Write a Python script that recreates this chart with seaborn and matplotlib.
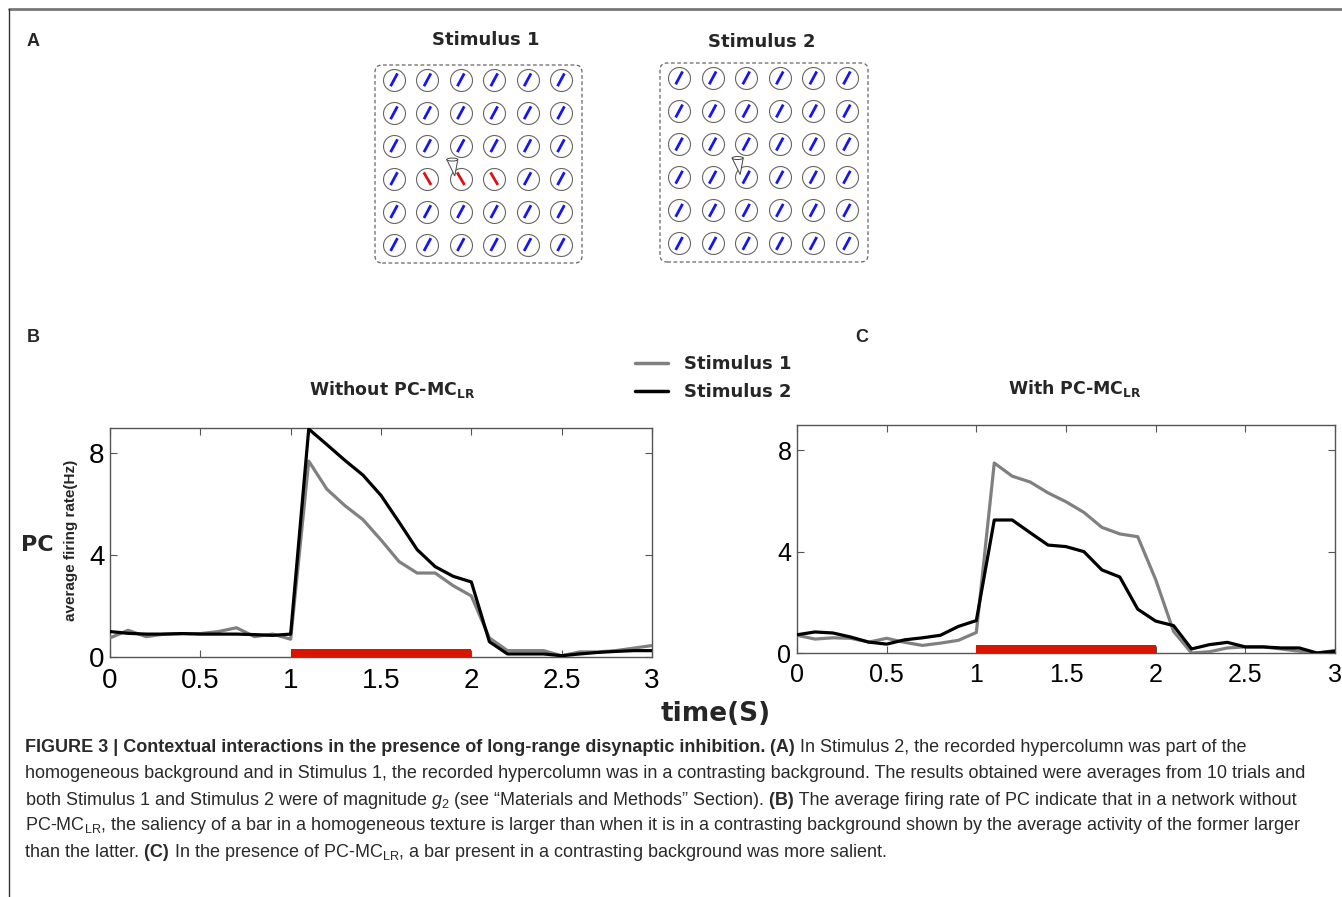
import matplotlib
matplotlib.use("Agg")

import numpy as np
import pandas as pd
import matplotlib.pyplot as plt
import seaborn as sns
from matplotlib import font_manager
from matplotlib.patches import FancyBboxPatch, Polygon, Ellipse
from matplotlib.lines import Line2D

# ---------------- data ----------------
time_s = [0.0, 0.1, 0.2, 0.3, 0.4, 0.5, 0.6, 0.7, 0.8, 0.9,
          1.0, 1.1, 1.2, 1.3, 1.4, 1.5, 1.6, 1.7, 1.8, 1.9,
          2.0, 2.1, 2.2, 2.3, 2.4, 2.5, 2.6, 2.7, 2.8, 2.9, 3.0]

# B: without PC-MC_LR
b_stim1 = [0.75, 1.05, 0.80, 0.90, 0.92, 0.92, 1.00, 1.15, 0.80, 0.90,
           0.70, 7.70, 6.60, 5.95, 5.40, 4.60, 3.75, 3.30, 3.30, 2.80,
           2.40, 0.75, 0.25, 0.25, 0.25, 0.05, 0.20, 0.20, 0.25, 0.35, 0.45]
b_stim2 = [1.00, 0.93, 0.90, 0.90, 0.92, 0.90, 0.90, 0.90, 0.88, 0.85,
           0.90, 8.96, 8.35, 7.73, 7.15, 6.35, 5.30, 4.22, 3.55, 3.17,
           2.95, 0.60, 0.12, 0.12, 0.12, 0.05, 0.12, 0.18, 0.22, 0.25, 0.25]

# C: with PC-MC_LR
c_stim1 = [0.70, 0.55, 0.60, 0.58, 0.43, 0.58, 0.42, 0.30, 0.39, 0.50,
           0.81, 7.50, 6.98, 6.75, 6.32, 5.97, 5.55, 4.96, 4.70, 4.59,
           2.90, 0.85, 0.00, 0.05, 0.20, 0.24, 0.24, 0.16, 0.07, 0.00, 0.10]
c_stim2 = [0.72, 0.83, 0.79, 0.63, 0.43, 0.35, 0.52, 0.60, 0.70, 1.05,
           1.28, 5.25, 5.25, 4.75, 4.26, 4.20, 4.00, 3.28, 3.00, 1.73,
           1.26, 1.08, 0.16, 0.33, 0.42, 0.24, 0.24, 0.20, 0.20, 0.00, 0.07]

stim_on = [1.0, 2.0]      # stimulus presentation window (s)
stim_bar_height = 0.32

x_ticks = [0, 0.5, 1, 1.5, 2, 2.5, 3]
x_ticklabels = ["0", "0.5", "1", "1.5", "2", "2.5", "3"]
y_ticks = [0, 4, 8]

# bar orientations (deg from horizontal) in the 6x6 hypercolumn grids
stim1_angles = [[62] * 6, [62] * 6, [62] * 6,
                [62, 120, 120, 120, 62, 62],
                [62] * 6, [62] * 6]
stim2_angles = [[62] * 6 for _ in range(6)]
electrode_cell = (2, 3)   # (col, row) of the recorded hypercolumn

caption_lines = [
    [("FIGURE 3 | Contextual interactions in the presence of long-range disynaptic inhibition.", "bold"),
     (" (A)", "bold"),
     (" In Stimulus 2, the recorded hypercolumn was part of the", "normal")],
    [("homogeneous background and in Stimulus 1, the recorded hypercolumn was in a contrasting "
      "background. The results obtained were averages from 10 trials and", "normal")],
    [("both Stimulus 1 and Stimulus 2 were of magnitude $g_2$ (see \u201cMaterials and Methods\u201d Section).", "normal"),
     (" (B)", "bold"),
     (" The average firing rate of PC indicate that in a network without", "normal")],
    [("PC-MC$_{\\mathrm{LR}}$, the saliency of a bar in a homogeneous texture is larger than when it is in "
      "a contrasting background shown by the average activity of the former larger", "normal")],
    [("than the latter.", "normal"),
     (" (C)", "bold"),
     (" In the presence of PC-MC$_{\\mathrm{LR}}$, a bar present in a contrasting background was more salient.", "normal")],
]

# ---------------- style ----------------
sns.set_theme(style="ticks", rc={"xtick.direction": "in", "ytick.direction": "in"})
plt.rcParams["font.family"] = ["DejaVu Sans"]

installed = {f.name for f in font_manager.fontManager.ttflist}
CAP_FONT = "Liberation Sans Narrow" if "Liberation Sans Narrow" in installed else "Liberation Sans"
CAP_SIZE = 15.3 if CAP_FONT == "Liberation Sans Narrow" else 13.0
plt.rcParams["mathtext.fontset"] = "custom"
plt.rcParams["mathtext.rm"] = CAP_FONT
plt.rcParams["mathtext.it"] = CAP_FONT + ":italic"
plt.rcParams["mathtext.bf"] = CAP_FONT + ":bold"

W, H = 1342, 897
fig = plt.figure(figsize=(W / 100, H / 100), dpi=100)
fig.patch.set_facecolor("white")


def fx(px):
    return px / W


def fy(py):
    return 1 - py / H


def box(l, t, r, b):
    return [fx(l), fy(b), (r - l) / W, (b - t) / H]


# outer frame lines (top & left)
fig.add_artist(Line2D([fx(9), 1], [fy(9), fy(9)], color="#777777", lw=2))
fig.add_artist(Line2D([fx(9), fx(9)], [fy(9), 0], color="#333333", lw=1))

# ---------------- panel A: schematic ----------------
def draw_grid(rect, angles, title, title_xy):
    ax = fig.add_axes(rect)
    ax.set_xlim(-0.57, 5.63)
    ax.set_ylim(5.56, -0.45)
    ax.axis("off")
    cols, rows = np.meshgrid(range(6), range(6))
    ax.scatter(cols.ravel(), rows.ravel(), s=250, facecolor="white",
               edgecolor="#666666", linewidths=0.8, zorder=2)
    h = 0.22
    for r, row in enumerate(angles):
        for c, a in enumerate(row):
            th = np.deg2rad(a)
            dx, dy = h * np.cos(th), -h * np.sin(th)
            col = "#1515ee" if a < 90 else "#dd1111"
            ax.plot([c - dx, c + dx], [r - dy, r + dy], color=col, lw=2.0,
                    solid_capstyle="butt", zorder=3)
    ec, er = electrode_cell
    ax.add_patch(Polygon([[ec - 0.42, er - 0.58], [ec - 0.18, er - 0.08],
                          [ec - 0.09, er - 0.58]], closed=True, fc="white",
                         ec="#444444", lw=0.7, zorder=4))
    ax.add_patch(Ellipse((ec - 0.255, er - 0.58), 0.33, 0.09, fc="white",
                         ec="#444444", lw=0.7, zorder=5))
    ax.add_patch(FancyBboxPatch((0, 0), 1, 1, transform=ax.transAxes,
                                boxstyle="round,pad=0,rounding_size=0.035",
                                fc="none", ec="#666666", lw=0.9,
                                ls=(0, (3, 2)), clip_on=False, zorder=1))
    fig.text(fx(title_xy[0]), fy(title_xy[1]), title, ha="center", va="center",
             fontsize=13, fontweight="bold")


draw_grid(box(375, 65, 582, 263), stim1_angles, "Stimulus 1", (486, 40))
draw_grid(box(660, 63, 868, 262), stim2_angles, "Stimulus 2", (762, 42))

# ---------------- panels B & C ----------------
palette = {"Stimulus 1": "#808080", "Stimulus 2": "black"}


def draw_rates(rect, s1, s2, title, title_xy, tick_size, xpad):
    df = pd.DataFrame({
        "time": time_s * 2,
        "rate": s1 + s2,
        "stimulus": ["Stimulus 1"] * len(s1) + ["Stimulus 2"] * len(s2),
    })
    ax = fig.add_axes(rect)
    sns.lineplot(data=df, x="time", y="rate", hue="stimulus", palette=palette,
                 linewidth=2.3, legend=False, ax=ax, zorder=3)
    ax.fill_between(stim_on, 0, stim_bar_height, color="#d81500", lw=0, zorder=4)
    ax.set_xlim(0, 3)
    ax.set_ylim(0, 9)
    ax.set_xticks(x_ticks)
    ax.set_xticklabels(x_ticklabels)
    ax.set_yticks(y_ticks)
    ax.tick_params(top=True, right=True, length=5, width=0.8, color="#555555",
                   labelsize=tick_size, labelcolor="black")
    ax.tick_params(axis="x", pad=xpad)
    ax.tick_params(axis="y", pad=4)
    for lab in ax.get_xticklabels() + ax.get_yticklabels():
        lab.set_family("Liberation Sans")
    for sp in ax.spines.values():
        sp.set_color("#555555")
        sp.set_linewidth(1.0)
    ax.set_xlabel("")
    ax.set_ylabel("")
    fig.text(fx(title_xy[0]), fy(title_xy[1]), title, ha="center", va="center",
             fontsize=12.5, fontweight="bold", math_fontfamily="dejavusans")
    return ax


ax_b = draw_rates(box(110, 428, 652, 657), b_stim1, b_stim2,
                  r"Without PC-MC$_{\mathbf{LR}}$", (392, 390), 20, 8)
ax_c = draw_rates(box(797, 425, 1335, 653), c_stim1, c_stim2,
                  r"With PC-MC$_{\mathbf{LR}}$", (1075, 388), 18, 7)

# legend shared by B and C
handles = [Line2D([], [], color=palette[k], lw=2.5) for k in palette]
fig.legend(handles, list(palette), loc="upper left",
           bbox_to_anchor=(fx(635), fy(355)), frameon=False,
           prop={"weight": "bold", "size": 13}, handlelength=1.85,
           handletextpad=0.85, labelspacing=0.55, borderaxespad=0, borderpad=0)

fig.text(fx(37), fy(545), "PC", ha="center", va="center", fontsize=16,
         fontweight="bold")
fig.text(fx(71), fy(540), "average firing rate(Hz)", ha="center", va="center",
         rotation=90, fontsize=11, fontweight="bold", family="Liberation Sans")
fig.text(fx(716), fy(714), "time(S)", ha="center", va="center", fontsize=19,
         fontweight="bold")

# panel letters
for letter, (px, py) in {"A": (33, 42), "B": (33, 337), "C": (862, 337)}.items():
    fig.text(fx(px), fy(py), letter, ha="center", va="center", fontsize=13,
             fontweight="bold", family="Liberation Sans")

# ---------------- caption ----------------
renderer = fig.canvas.get_renderer()
line_y = [752, 778, 805, 830, 857, 883]
for parts, py in zip(caption_lines, line_y):
    x = fx(25)
    for txt, weight in parts:
        t = fig.text(x, fy(py), txt, ha="left", va="baseline", fontsize=CAP_SIZE,
                     fontweight=weight, family=CAP_FONT, color="#2a2a2a",
                     math_fontfamily="custom")
        bb = t.get_window_extent(renderer)
        x = bb.x1 / W

fig.savefig("out.png", dpi=100, facecolor="white")
